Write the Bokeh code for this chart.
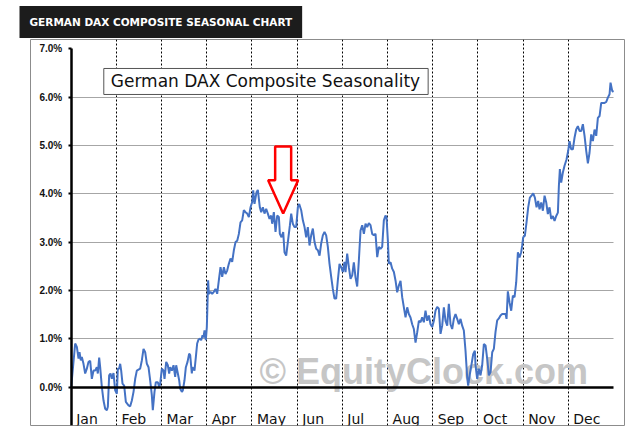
from bokeh.plotting import figure
from bokeh.models import Range1d, FixedTicker, PrintfTickFormatter, Label, PolyAnnotation, BoxAnnotation
from bokeh.core.properties import value
from bokeh.embed import file_html
from bokeh.resources import INLINE

# ---------------- data ----------------
month_labels = ["Jan", "Feb", "Mar", "Apr", "May", "Jun",
                "Jul", "Aug", "Sep", "Oct", "Nov", "Dec"]
month_starts = [0, 1, 2, 3, 4, 5, 6, 7, 8, 9, 10, 11]   # x position (months)
y_ticks = [0, 1, 2, 3, 4, 5, 6, 7]                       # percent

# x: fraction of year in months (0..12), y: seasonal return in percent
x_months = [
    0.000, 0.088, 0.125, 0.162, 0.184, 0.213, 0.235, 0.272, 0.309, 0.346, 0.383, 0.420,
    0.457, 0.493, 0.530, 0.567, 0.589, 0.619, 0.641, 0.678, 0.715, 0.752, 0.789, 0.811,
    0.840, 0.870, 0.899, 0.936, 0.973, 1.010, 1.032, 1.061, 1.084, 1.106, 1.135, 1.172,
    1.209, 1.268, 1.305, 1.342, 1.379, 1.416, 1.452, 1.489, 1.526, 1.563, 1.600, 1.637,
    1.674, 1.711, 1.747, 1.784, 1.806, 1.843, 1.873, 1.917, 1.947, 1.969, 2.006, 2.043,
    2.065, 2.102, 2.138, 2.168, 2.190, 2.227, 2.264, 2.301, 2.323, 2.360, 2.389, 2.411,
    2.448, 2.470, 2.507, 2.537, 2.574, 2.610, 2.633, 2.669, 2.684, 2.728, 2.758, 2.787,
    2.817, 2.854, 2.876, 2.906, 2.928, 2.950, 2.979, 3.001, 3.015, 3.030,
    3.046, 3.083, 3.119, 3.156, 3.193, 3.230, 3.267, 3.304, 3.341, 3.378, 3.414, 3.451,
    3.488, 3.525, 3.562, 3.599, 3.636, 3.673, 3.710, 3.746, 3.783, 3.820, 3.857, 3.894,
    3.931, 3.968, 4.005, 4.027, 4.056, 4.100, 4.130, 4.174, 4.204, 4.241, 4.277, 4.314,
    4.351, 4.388, 4.425, 4.447, 4.484, 4.521, 4.558, 4.595, 4.617, 4.654, 4.691, 4.720,
    4.757, 4.794, 4.838, 4.868, 4.904, 4.941, 4.978, 5.015, 5.045, 5.089, 5.126, 5.163,
    5.200, 5.236, 5.273, 5.310, 5.347, 5.384, 5.421, 5.458, 5.495, 5.531, 5.568, 5.605,
    5.642, 5.679, 5.716, 5.753, 5.789, 5.826, 5.863, 5.900, 5.937, 5.974, 6.011, 6.048,
    6.070, 6.107, 6.144, 6.181, 6.218, 6.254, 6.291, 6.328, 6.365, 6.402, 6.439, 6.476,
    6.513, 6.549, 6.586, 6.623, 6.660, 6.697, 6.734, 6.771, 6.808, 6.844, 6.881, 6.918,
    6.955, 6.977, 7.007, 7.029, 7.066, 7.103, 7.140, 7.177, 7.213, 7.250, 7.287, 7.324,
    7.361, 7.398, 7.435, 7.471, 7.508, 7.545, 7.582, 7.619, 7.656, 7.693, 7.730, 7.766,
    7.803, 7.840, 7.877, 7.914, 7.951, 7.988, 8.025, 8.061, 8.098, 8.135, 8.172, 8.209,
    8.246, 8.283, 8.320, 8.356, 8.393, 8.430, 8.467, 8.504, 8.541, 8.578, 8.615, 8.651,
    8.688, 8.725, 8.762, 8.784, 8.821, 8.858, 8.895, 8.932,
    8.947, 8.983, 9.020, 9.057, 9.094, 9.131, 9.168, 9.205, 9.242, 9.279, 9.316, 9.352,
    9.389, 9.426, 9.463, 9.500, 9.537, 9.574, 9.611, 9.633, 9.662, 9.699, 9.736, 9.773,
    9.810, 9.847, 9.884, 9.920, 9.957, 9.979, 10.001, 10.038, 10.075, 10.112, 10.149, 10.186,
    10.223, 10.260, 10.297, 10.333, 10.363, 10.400, 10.437, 10.474, 10.511, 10.547, 10.584, 10.621,
    10.658, 10.695, 10.732, 10.769, 10.791, 10.813, 10.842, 10.879, 10.916, 10.960, 10.997, 11.027,
    11.064, 11.100, 11.137, 11.174, 11.211, 11.248, 11.285, 11.322, 11.359, 11.396, 11.433, 11.469,
    11.506, 11.543, 11.580, 11.617, 11.654, 11.691, 11.728, 11.765, 11.802, 11.838, 11.875, 11.912,
    11.934, 11.971, 12.000,
]
seasonal_pct = [
    0.00, 0.90, 0.83, 0.59, 0.72, 0.55, 0.62, 0.48, 0.28, 0.38, 0.52, 0.54,
    0.17, 0.34, 0.34, 0.41, 0.28, 0.61, 0.41, 0.00, -0.28, -0.45, -0.48, -0.41,
    0.24, 0.28, 0.17, 0.29, -0.07, -0.14, 0.38, 0.38, 0.48, 0.34, 0.07, 0.03,
    -0.31, -0.38, -0.40, -0.28, -0.10, 0.17, 0.34, 0.36, 0.38, 0.55, 0.79, 0.72,
    0.48, 0.41, 0.14, -0.17, -0.48, -0.10, 0.10, 0.10, 0.00, 0.07, 0.38, 0.34,
    0.17, 0.52, 0.45, 0.28, 0.41, 0.34, 0.45, 0.21, 0.45, 0.28, 0.14, -0.03,
    -0.10, -0.07, 0.14, 0.41, 0.52, 0.69, 0.66, 0.28, 0.41, 0.34, 0.62, 0.90,
    0.98, 1.00, 0.97, 1.07, 1.03, 1.17, 0.97, 1.24, 1.70, 2.21,
    1.93, 1.97, 1.93, 1.97, 2.03, 1.93, 2.21, 2.48, 2.28, 2.48, 2.34, 2.41,
    2.55, 2.66, 2.59, 2.83, 3.00, 3.03, 3.17, 3.41, 3.45, 3.66, 3.62, 3.59,
    3.52, 3.72, 3.83, 4.07, 3.79, 4.03, 4.08, 3.72, 3.62, 3.72, 3.59, 3.69,
    3.59, 3.48, 3.55, 3.38, 3.62, 3.21, 3.55, 3.52, 3.17, 3.10, 3.21, 2.79,
    2.72, 3.00, 3.34, 3.59, 3.38, 3.31, 3.31, 3.72, 3.79, 3.66, 3.45, 3.31,
    3.10, 3.31, 2.93, 3.14, 3.28, 3.00, 2.86, 2.83, 2.72, 2.97, 3.14, 3.21,
    3.14, 2.90, 2.55, 2.28, 2.03, 1.83, 1.83, 2.21, 2.55, 2.48, 2.38, 2.59,
    2.38, 2.76, 2.48, 2.24, 2.31, 2.58, 2.27, 2.08, 2.62, 3.24, 3.35, 3.17,
    3.38, 3.31, 3.39, 3.35, 3.17, 3.14, 3.17, 2.69, 2.90, 2.86, 2.90, 3.45,
    3.55, 3.52, 3.03, 2.55, 2.58, 2.45, 2.38, 2.20, 1.96, 2.10, 2.20, 1.86,
    1.65, 1.44, 1.65, 1.51, 1.44, 1.30, 1.20, 0.92, 1.13, 1.37, 1.34, 1.44,
    1.34, 1.58, 1.37, 1.48, 1.30, 1.24, 1.37, 1.58, 1.66, 1.62, 1.10, 1.27,
    1.65, 1.37, 1.27, 1.72, 1.30, 1.20, 1.41, 1.51, 1.41, 1.30, 1.41, 1.27,
    1.17, 0.75, 0.20, 0.03, 0.27, 0.47, 0.68, 0.75,
    0.45, 0.17, 0.38, 0.24, 0.45, 0.89, 0.86, 0.58, 0.24, 0.31, 0.72, 0.79,
    1.14, 1.38, 1.42, 1.48, 1.51, 1.51, 1.51, 1.41, 1.98, 1.75, 1.58, 1.89,
    1.86, 2.17, 2.79, 2.68, 2.79, 2.93, 3.10, 3.13, 3.41, 3.72, 3.92, 3.96,
    4.01, 3.92, 3.72, 3.85, 3.68, 3.82, 3.65, 3.96, 3.82, 3.58, 3.72, 3.48,
    3.54, 3.44, 3.54, 3.61, 4.16, 4.51, 4.23, 4.44, 4.58, 4.71, 4.89, 5.09,
    4.92, 4.92, 5.16, 5.33, 5.40, 5.30, 5.30, 5.44, 5.20, 4.89, 4.63, 4.85,
    5.23, 5.09, 5.33, 5.20, 5.57, 5.61, 5.88, 5.88, 5.88, 5.90, 5.99, 6.06,
    6.30, 6.13, 6.11,
]

title_text = "GERMAN DAX COMPOSITE SEASONAL CHART"
legend_text = "German DAX Composite Seasonality"
watermark_text = "\u00a9 EquityClock.com"

# ---------------- figure ----------------
X0, X1 = -0.9006, 12.243
Y0, Y1 = -0.797, 7.194

p = figure(width=625, height=427, output_backend="svg", toolbar_location=None,
           x_range=Range1d(X0, X1), y_range=Range1d(Y0, Y1),
           min_border_left=30, min_border_right=1, min_border_top=39, min_border_bottom=2,
           background_fill_color="white", border_fill_color="white",
           outline_line_color="#8c8c8c", outline_line_width=1)

# title box (black)
p.title.text = title_text
p.title.align = "left"
p.title.offset = -11
p.title.standoff = 3
p.title.text_font = "DejaVu Sans"
p.title.text_font_style = "bold"
p.title.text_font_size = "10.5px"
p.title.text_color = "white"
p.title.background_fill_color = "#1c1c1c"
p.title.padding = dict(left=10, right=10, top=10, bottom=10)

# y axis placed at Jan 1 (x = 0)
yax = p.yaxis[0]
yax.fixed_location = 0
yax.ticker = FixedTicker(ticks=y_ticks)
yax.formatter = PrintfTickFormatter(format="%.1f%%")
yax.bounds = (Y0, 7.0)
yax.axis_line_color = "black"
yax.axis_line_width = 2.5
yax.major_tick_line_color = "black"
yax.major_tick_line_width = 2
yax.major_tick_out = 3
yax.major_tick_in = 0
yax.minor_tick_out = 0
yax.minor_tick_in = 0
yax.major_label_standoff = 6
yax.major_label_text_font = "Liberation Sans"
yax.major_label_text_font_style = "bold"
yax.major_label_text_font_size = "10px"
yax.major_label_text_color = "#111111"

# x axis as the zero line
xax = p.xaxis[0]
xax.fixed_location = 0
xax.bounds = (0, 12)
xax.ticker = FixedTicker(ticks=[])
xax.axis_line_color = "black"
xax.axis_line_width = 2.5
xax.major_tick_out = 0
xax.major_tick_in = 0
xax.minor_tick_out = 0
xax.minor_tick_in = 0
xax.major_label_text_font_size = "0px"

# grids
p.xgrid.ticker = FixedTicker(ticks=month_starts[1:])
p.xgrid.grid_line_color = "black"
p.xgrid.grid_line_dash = "2 2"
p.xgrid.grid_line_width = 1

p.ygrid.ticker = FixedTicker(ticks=y_ticks[1:-1])
p.ygrid.grid_line_color = "#a6a6a6"
p.ygrid.grid_line_width = 1
g = p.ygrid[0]
if "cross_bounds" in type(g).properties():
    g.cross_bounds = (0, 12)
else:
    p.add_layout(BoxAnnotation(right=0, fill_color="white", fill_alpha=1.0,
                               line_color=None, level="underlay"))
    p.add_layout(BoxAnnotation(left=12, fill_color="white", fill_alpha=1.0,
                               line_color=None, level="underlay"))

# watermark
p.add_layout(Label(x=4.167, y=0.33, text=watermark_text, text_font="Liberation Sans",
                   text_font_style="bold", text_font_size="36px", text_color="#c6c6c6",
                   text_baseline="middle", level="underlay"))

# month labels
p.text(x=month_starts, y=-0.66, text=month_labels, x_offset=5,
       text_font=value("DejaVu Sans"), text_font_size="14px",
       text_baseline="middle", text_align="left", text_color="#111111")

# seasonal line
p.line(x_months, seasonal_pct, line_color="#4472c4", line_width=2)

# red arrow
ax_c, stem_hw, head_hw = 4.69, 0.177, 0.332
a_top, a_neck, a_tip = 4.98, 4.28, 3.59
p.add_layout(PolyAnnotation(
    xs=[ax_c - stem_hw, ax_c + stem_hw, ax_c + stem_hw, ax_c + head_hw, ax_c,
        ax_c - head_hw, ax_c - stem_hw],
    ys=[a_top, a_top, a_neck, a_neck, a_tip, a_neck, a_neck],
    fill_color="white", fill_alpha=1.0, line_color="#ff0000", line_alpha=1.0,
    line_width=2.5))

# legend-like caption box
p.add_layout(Label(x=0.721, y=6.325, text=legend_text, text_font="DejaVu Sans",
                   text_font_size="17px", text_color="#111111", text_baseline="middle",
                   background_fill_color="white", border_line_color="#555555",
                   border_line_width=1,
                   padding=dict(left=7, right=8, top=3, bottom=3)))

open("out.html", "w").write(file_html(p, INLINE))
